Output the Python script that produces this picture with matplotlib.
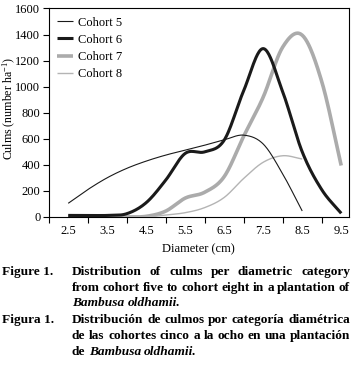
import numpy as np
import matplotlib
matplotlib.use('Agg')
import matplotlib.pyplot as plt

plt.rcParams['font.family'] = ['Liberation Serif', 'DejaVu Serif']
plt.rcParams['mathtext.fontset'] = 'custom'
plt.rcParams['mathtext.rm'] = 'Liberation Serif'
plt.rcParams['mathtext.it'] = 'Liberation Serif:italic'

# diameter categories (cm), read every 0.5 cm along the curves
diam = [2.5, 3.0, 3.5, 4.0, 4.5, 5.0, 5.5, 6.0, 6.5, 7.0, 7.5, 8.0, 8.5, 9.0, 9.5]
cohort5 = [105, 210, 301, 373, 429, 475, 513, 551, 592, 628, 560, 330, 46]
cohort6 = [12, 12, 12, 25, 110, 283, 488, 500, 590, 970, 1292, 960, 500, 210, 28]
cohort7 = [0, 0, 0, 0, 5, 45, 145, 190, 310, 620, 920, 1304, 1395, 1040, 395]
cohort8 = [0, 0, 0, 0, 0, 15, 33, 72, 150, 296, 420, 470, 445]

xtick_labels = ['2.5', '3.5', '4.5', '5.5', '6.5', '7.5', '8.5', '9.5']


def smooth(x, y, n=24):
    """Catmull-Rom curve through the points (like a 'smoothed line' chart)"""
    x = np.asarray(x, float)
    y = np.asarray(y, float)
    px = np.concatenate([[2 * x[0] - x[1]], x, [2 * x[-1] - x[-2]]])
    py = np.concatenate([[2 * y[0] - y[1]], y, [2 * y[-1] - y[-2]]])
    xs, ys = [], []
    t = np.linspace(0, 1, n, endpoint=False)
    for i in range(1, len(px) - 2):
        p0, p1, p2, p3 = py[i - 1], py[i], py[i + 1], py[i + 2]
        m1 = (p2 - p0) / 2
        m2 = (p3 - p1) / 2
        h00 = 2 * t**3 - 3 * t**2 + 1
        h10 = t**3 - 2 * t**2 + t
        h01 = -2 * t**3 + 3 * t**2
        h11 = t**3 - t**2
        ys.append(h00 * p1 + h10 * m1 + h01 * p2 + h11 * m2)
        xs.append(px[i] + t * (px[i + 1] - px[i]))
    xs.append([x[-1]])
    ys.append([y[-1]])
    return np.concatenate(xs), np.concatenate(ys)


fig = plt.figure(figsize=(3.53, 3.72), dpi=100)
ax = fig.add_axes([0.138, 0.4167, 0.8507, 0.5605])

series = [
    ('Cohort 5', cohort5, '#1a1a1a', 0.8, 5),
    ('Cohort 6', cohort6, '#1a1a1a', 2.2, 4),
    ('Cohort 7', cohort7, '#ababab', 2.6, 2),
    ('Cohort 8', cohort8, '#b4b4b4', 1.0, 3),
]
for label, vals, col, lw, z in series:
    sx, sy = smooth(diam[:len(vals)], vals)
    ax.plot(sx, sy, color=col, lw=lw, label=label, zorder=z,
            solid_capstyle='butt')

ax.set_xlim(2.0, 9.7)
ax.set_ylim(0, 1600)
ax.set_yticks(range(0, 1601, 200))
ax.set_xticks(range(2, 10))
ax.set_xticklabels([])
ax.set_xticks([float(v) for v in xtick_labels], minor=True)
ax.set_xticklabels(xtick_labels, minor=True)
ax.tick_params(axis='x', which='major', direction='out', length=4, width=0.8)
ax.tick_params(axis='x', which='minor', length=0, pad=6, labelsize=9)
ax.tick_params(axis='y', direction='out', length=4, width=0.8, pad=2,
               labelsize=9)
for s in ax.spines.values():
    s.set_linewidth(0.8)

ax.set_xlabel('Diameter (cm)', fontsize=9, labelpad=4)
ax.set_ylabel(r'Culms (number ha$^{-1}$)', fontsize=8.6)
ax.yaxis.set_label_coords(-0.103, 0.52)

ax.legend(loc='upper left', frameon=False, fontsize=9, handlelength=1.3,
          handletextpad=0.4, labelspacing=0.42, borderaxespad=0.45,
          borderpad=0.2)

# caption, justified like the printed figure
renderer = fig.canvas.get_renderer()
W, H = 353.0, 372.0
cap_size = 9.6


def put_words(words, x0, x1, y, justify=True):
    texts = []
    for w, style in words:
        t = fig.text(0, 1 - y / H, w, fontsize=cap_size, fontweight='bold',
                     fontstyle=style, va='center', ha='left')
        texts.append(t)
    widths = [t.get_window_extent(renderer).width for t in texts]
    space = 3.2
    if justify and len(texts) > 1:
        space = (x1 - x0 - sum(widths)) / (len(texts) - 1)
    x = x0
    for t, w in zip(texts, widths):
        t.set_x(x / W)
        x += w + space


def words(s, style='normal'):
    return [(w, style) for w in s.split()]


put_words([('Figure 1.', 'normal')], 2, 60, 272, justify=False)
put_words(words('Distribution of culms per diametric category'), 72, 350, 272)
put_words(words('from cohort five to cohort eight in a plantation of'), 72, 350, 288)
put_words(words('Bambusa oldhamii.', 'italic'), 72, 350, 303, justify=False)
put_words([('Figura 1.', 'normal')], 2, 60, 320, justify=False)
put_words(words('Distribución de culmos por categoría diamétrica'), 72, 350, 320)
put_words(words('de las cohortes cinco a la ocho en una plantación'), 72, 350, 336)
put_words(words('de') + words('Bambusa oldhamii.', 'italic'), 72, 350, 352,
          justify=False)

fig.savefig('out.png', dpi=100)
